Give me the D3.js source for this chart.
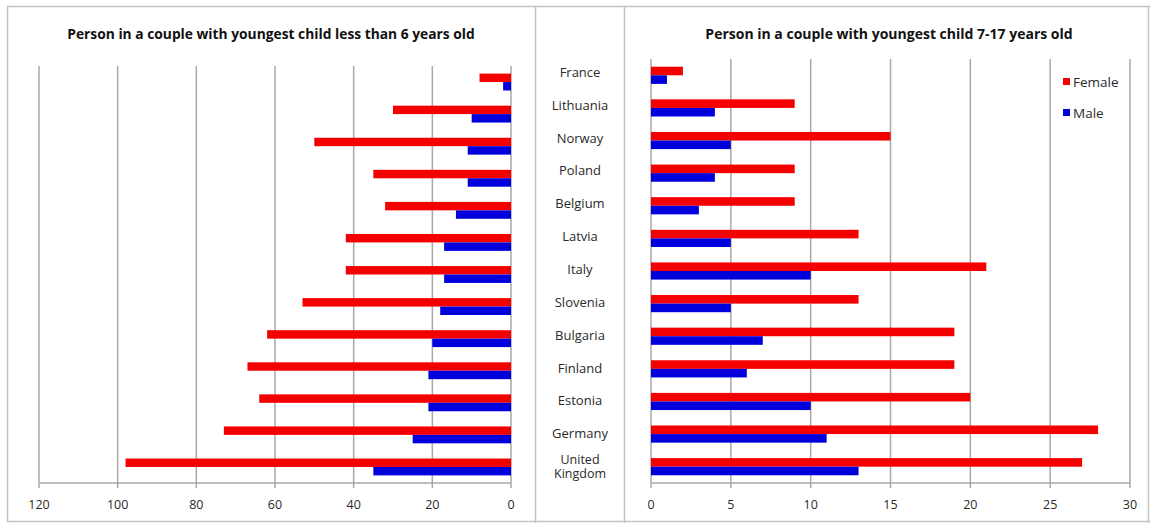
<!DOCTYPE html>
<html><head><meta charset="utf-8">
<script src="https://cdn.jsdelivr.net/npm/d3@7"></script>
<style>
html,body{margin:0;padding:0;background:#fff;}
svg{display:block;font-family:"Open Sans",Lato,sans-serif;}
</style></head>
<body>
<svg id="chart" width="1150" height="523"></svg>
<script>
const countries = ["France","Lithuania","Norway","Poland","Belgium","Latvia","Italy","Slovenia","Bulgaria","Finland","Estonia","Germany","United Kingdom"];
const femaleUnder6 = [8,30,50,35,32,42,42,53,62,67,64,73,98];
const maleUnder6   = [2,10,11,11,14,17,17,18,20,21,21,25,35];
const female7to17  = [2,9,15,9,9,13,21,13,19,19,20,28,27];
const male7to17    = [1,4,5,4,3,5,10,5,7,6,10,11,13];
const leftTicks  = [0,20,40,60,80,100,120];
const rightTicks = [0,5,10,15,20,25,30];
const seriesNames = ["Female","Male"];
const leftTitle  = "Person in a couple with youngest child less than 6 years old";
const rightTitle = "Person in a couple with youngest child 7-17 years old";

const RED = "#f50000", BLUE = "#0000dc", GRID = "#a8a8a8", BORDER = "#c4c4c4", TXT = "#2a2a2a";
const svg = d3.select("#chart");

// panel borders
const b = svg.append("g").attr("fill","none").attr("stroke",BORDER).attr("stroke-width",1.5);
b.append("line").attr("x1",7).attr("x2",1150).attr("y1",6.5).attr("y2",6.5);
b.append("line").attr("x1",7.5).attr("x2",7.5).attr("y1",6.5).attr("y2",522);
b.append("line").attr("x1",535.5).attr("x2",535.5).attr("y1",6.5).attr("y2",523);
b.append("line").attr("x1",624.5).attr("x2",624.5).attr("y1",6.5).attr("y2",523);
b.append("line").attr("x1",7).attr("x2",1150).attr("y1",521.5).attr("y2",521.5);
b.append("line").attr("x1",1148.5).attr("x2",1148.5).attr("y1",6.5).attr("y2",523);

function panel(opts){
  const {x, y, ticks, fem, mal, title, titleX, titleSize} = opts;
  const g = svg.append("g");
  const [y0,y1] = y.range();
  g.selectAll("line.grid").data(ticks).join("line")
    .attr("x1",d=>x(d)).attr("x2",d=>x(d))
    .attr("y1",y0).attr("y2",y1+5)
    .attr("stroke",GRID).attr("stroke-width",1.5);
  g.append("line").attr("x1",d3.min(x.range())).attr("x2",d3.max(x.range()))
    .attr("y1",y1).attr("y2",y1).attr("stroke",GRID).attr("stroke-width",1.5);
  const step = y.step();
  const bh = step/1.9/2;
  const zero = x(0);
  g.selectAll("rect.f").data(countries).join("rect")
    .attr("x",(d,i)=>Math.min(zero,x(fem[i]))).attr("width",(d,i)=>Math.abs(x(fem[i])-zero))
    .attr("y",d=>y(d)+step/2-bh).attr("height",bh).attr("fill",RED);
  g.selectAll("rect.m").data(countries).join("rect")
    .attr("x",(d,i)=>Math.min(zero,x(mal[i]))).attr("width",(d,i)=>Math.abs(x(mal[i])-zero))
    .attr("y",d=>y(d)+step/2).attr("height",bh).attr("fill",BLUE);
  g.selectAll("text.tick").data(ticks).join("text")
    .attr("x",d=>x(d)).attr("y",509).attr("text-anchor","middle")
    .attr("font-size",12.5).attr("fill",TXT).text(d=>d);
  g.append("text").attr("x",titleX).attr("y",39).attr("text-anchor","middle")
    .attr("font-size",titleSize).attr("font-weight","bold").attr("fill","#111").text(title);
}

const xL = d3.scaleLinear().domain([0,120]).range([511,39]);
const yL = d3.scaleBand().domain(countries).range([66,483]);
panel({x:xL, y:yL, ticks:leftTicks, fem:femaleUnder6, mal:maleUnder6, title:leftTitle, titleX:271, titleSize:13.8});

const xR = d3.scaleLinear().domain([0,30]).range([651,1130]);
const yR = d3.scaleBand().domain(countries).range([59,483]);
panel({x:xR, y:yR, ticks:rightTicks, fem:female7to17, mal:male7to17, title:rightTitle, titleX:889, titleSize:14});

// category labels
const yC = d3.scaleBand().domain(countries).range([56,483]);
const lab = svg.append("g").attr("font-size",13).attr("fill",TXT).attr("text-anchor","middle");
countries.forEach(c=>{
  const cy = yC(c)+yC.step()/2;
  const words = c === "United Kingdom" ? ["United","Kingdom"] : [c];
  const fs = words.length > 1 ? 12.5 : 13;
  const lh = 14;
  const t = lab.append("text").attr("x",580).attr("font-size",fs)
    .attr("y",cy - (words.length-1)/2*lh + 4.5);
  words.forEach((w,k)=>{
    t.append("tspan").attr("x",580).attr("dy",k===0?0:lh).text(w);
  });
});

// legend
const leg = svg.append("g");
const legColors = [RED, BLUE];
seriesNames.forEach((n,i)=>{
  const ly = 82 + i*31;
  leg.append("rect").attr("x",1063).attr("y",ly-4).attr("width",7).attr("height",7).attr("fill",legColors[i]);
  leg.append("text").attr("x",1073).attr("y",ly+5).attr("font-size",13.5).attr("fill",TXT).text(n);
});
</script>
</body></html>
